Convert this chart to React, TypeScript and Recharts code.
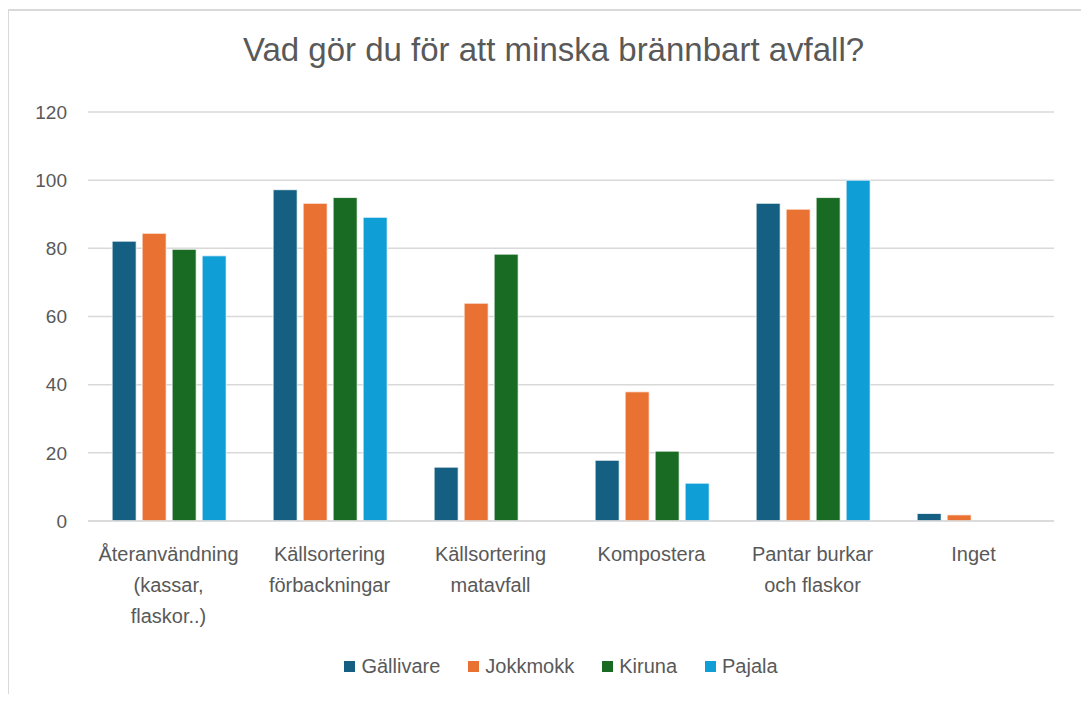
import React from "react";
import { BarChart, Bar, XAxis, YAxis, CartesianGrid } from "recharts";

const categories = [
  "Återanvändning\n(kassar,\nflaskor..)",
  "Källsortering\nförbackningar",
  "Källsortering\nmatavfall",
  "Kompostera",
  "Pantar burkar\noch flaskor",
  "Inget",
];

const gallivare = [82.1, 97.2, 15.8, 17.8, 93.2, 2.2];
const jokkmokk = [84.4, 93.2, 63.9, 37.9, 91.5, 1.8];
const kiruna = [79.7, 94.9, 78.3, 20.5, 94.9, 0];
const pajala = [77.8, 89.1, 0, 11.1, 100, 0];

const yTicks = [0, 20, 40, 60, 80, 100, 120];

const series = [
  { key: "Gällivare", values: gallivare, color: "#156082" },
  { key: "Jokkmokk", values: jokkmokk, color: "#E97132" },
  { key: "Kiruna", values: kiruna, color: "#196B24" },
  { key: "Pajala", values: pajala, color: "#0F9ED5" },
];

const data = categories.map((name, i) => {
  const row: Record<string, string | number> = { name };
  series.forEach((s) => {
    row[s.key] = s.values[i];
  });
  return row;
});

const FONT = '"Liberation Sans", Arial, sans-serif';
const TEXT = "#595959";

function CategoryTick(props: any) {
  const { x, y, payload } = props;
  const lines = String(payload.value).split("\n");
  return (
    <text x={x} y={y} textAnchor="middle" fill={TEXT} fontSize={20} fontFamily={FONT}>
      {lines.map((line: string, i: number) => (
        <tspan key={i} x={x} dy={i === 0 ? 32 : 31}>
          {line}
        </tspan>
      ))}
    </text>
  );
}

export default function App() {
  return (
    <div style={{ position: "relative", margin: -8, width: 1089, height: 702, background: "#fff" }}>
      <div
        style={{
          position: "absolute",
          left: 7,
          top: 9,
          right: 0,
          bottom: 0,
          borderTop: "2px solid #d9d9d9",
          borderLeft: "2px solid #d9d9d9",
        }}
      />
      <div
        style={{
          position: "absolute",
          top: 31,
          left: 0,
          width: 1107,
          textAlign: "center",
          fontFamily: FONT,
          fontSize: 33,
          color: TEXT,
        }}
      >
        Vad gör du för att minska brännbart avfall?
      </div>
      <div style={{ position: "absolute", left: 0, top: 0 }}>
        <BarChart
          width={1089}
          height={702}
          data={data}
          margin={{ top: 112, right: 35, left: 2, bottom: 81 }}
          barCategoryGap="15%"
          barGap={6}
        >
          <CartesianGrid vertical={false} stroke="#d9d9d9" strokeWidth={1.5} />
          <XAxis
            dataKey="name"
            tickLine={false}
            axisLine={{ stroke: "#d9d9d9", strokeWidth: 1.5 }}
            tick={<CategoryTick />}
            interval={0}
            height={100}
          />
          <YAxis
            domain={[0, 120]}
            ticks={yTicks}
            width={86}
            axisLine={false}
            tickLine={false}
            tickMargin={15}
            tick={{ fill: TEXT, fontSize: 19, fontFamily: FONT }}
          />
          {series.map((s) => (
            <Bar
              key={s.key}
              dataKey={s.key}
              fill={s.color}
              stroke="#ffffff"
              strokeWidth={0.75}
              isAnimationActive={false}
            />
          ))}
        </BarChart>
      </div>
      <div
        style={{
          position: "absolute",
          top: 655,
          left: 0,
          width: 1122,
          display: "flex",
          justifyContent: "center",
          gap: 28,
          fontFamily: FONT,
          fontSize: 20,
          color: TEXT,
        }}
      >
        {series.map((s) => (
          <div key={s.key} style={{ display: "flex", alignItems: "center", gap: 6 }}>
            <span style={{ width: 11, height: 11, background: s.color, display: "inline-block" }} />
            <span>{s.key}</span>
          </div>
        ))}
      </div>
    </div>
  );
}
